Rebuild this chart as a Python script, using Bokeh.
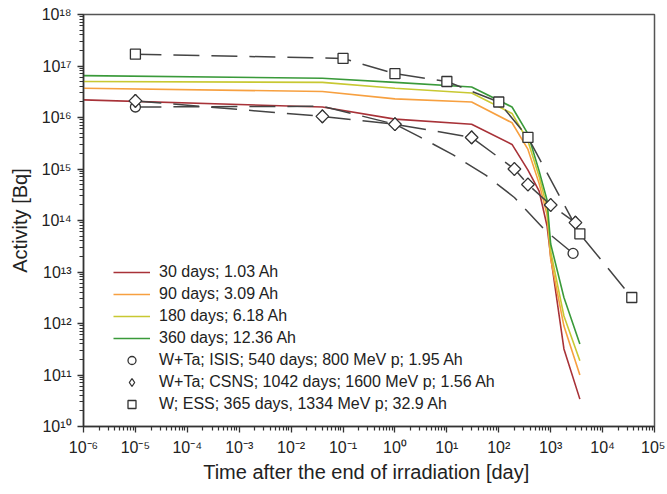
from bokeh.plotting import figure
from bokeh.models import FixedTicker, CustomJSTickFormatter, Legend, LegendItem
from bokeh.embed import file_html
from bokeh.resources import INLINE
import math

# ---------------- data ----------------
# simulated activity curves (time after end of irradiation, days)
sim_t = [1e-6, 0.04, 1, 30, 180, 365, 600, 850, 1000, 1800, 3650]
act_30d = [2.2e16, 1.6e16, 9.3e15, 7.4e15, 3.0e15, 9.5e14, 3.7e14, 7.9e13, 2.0e13, 3.2e11, 3.4e10]
act_90d = [3.7e16, 3.2e16, 2.3e16, 2.0e16, 7.9e15, 2.4e15, 5.2e14, 1.3e14, 1.8e13, 8.9e11, 1.0e11]
act_180d = [5.0e16, 4.8e16, 3.7e16, 3.0e16, 1.2e16, 3.5e15, 7.1e14, 1.8e14, 2.5e13, 1.4e12, 1.9e11]
act_360d = [6.5e16, 5.8e16, 4.8e16, 3.9e16, 1.6e16, 4.8e15, 9.1e14, 2.5e14, 3.5e13, 3.2e12, 4.0e11]

# W+Ta; ISIS (circles + dashed curve)
isis_t = [1e-5, 2700]
isis_a = [1.6e16, 2.3e13]
isis_curve_t = [1e-5, 0.04, 1, 3, 13, 56, 200, 800, 2700]
isis_curve_a = [1.6e16, 1.65e16, 7.4e15, 4.2e15, 1.9e15, 7.6e14, 2.8e14, 6.3e13, 2.3e13]

# W+Ta; CSNS (diamonds)
csns_t = [1e-5, 0.04, 1, 30, 200, 365, 1000, 3000]
csns_a = [2.1e16, 1.05e16, 7.4e15, 4.1e15, 1.0e15, 5.0e14, 2.0e14, 9.1e13]

# W; ESS (squares)
ess_t = [1e-5, 0.1, 1, 10, 100, 365, 3650, 36500]
ess_a = [1.7e17, 1.4e17, 7.1e16, 5.0e16, 2.0e16, 4.1e15, 5.5e13, 3.2e12]

# tick labels
x_ticks = [1e-6, 1e-5, 1e-4, 1e-3, 1e-2, 1e-1, 1e0, 1e1, 1e2, 1e3, 1e4, 1e5]
x_tick_labels = ["10⁻⁶", "10⁻⁵", "10⁻⁴", "10⁻³", "10⁻²", "10⁻¹", "10⁰", "10¹",
                 "10²", "10³", "10⁴", "10⁵"]
y_ticks = [1e10, 1e11, 1e12, 1e13, 1e14, 1e15, 1e16, 1e17, 1e18]
y_tick_labels = ["10¹⁰", "10¹¹", "10¹²", "10¹³", "10¹⁴", "10¹⁵", "10¹⁶", "10¹⁷", "10¹⁸"]

legend_labels = ["30 days; 1.03 Ah", "90 days; 3.09 Ah", "180 days; 6.18 Ah", "360 days; 12.36 Ah",
                 "W+Ta; ISIS; 540 days; 800 MeV p; 1.95 Ah",
                 "W+Ta; CSNS; 1042 days; 1600 MeV p; 1.56 Ah",
                 "W; ESS; 365 days, 1334 MeV p; 32.9 Ah"]

# ---------------- figure ----------------
FONT = "Liberation Sans"
p = figure(width=665, height=492, x_axis_type="log", y_axis_type="log",
           x_range=(1e-6, 1e5), y_range=(1e10, 1e18),
           output_backend="svg", toolbar_location=None,
           min_border_left=83, min_border_right=11, min_border_top=14, min_border_bottom=66)
p.grid.visible = False
p.outline_line_color = "#555555"
p.outline_line_width = 1.5
p.background_fill_color = "white"
p.border_fill_color = "white"

x_minor = [m * 10.0 ** k for k in range(-6, 5) for m in range(2, 10)]
y_minor = [m * 10.0 ** k for k in range(10, 18) for m in range(2, 10)]
p.xaxis.ticker = FixedTicker(ticks=x_ticks, minor_ticks=x_minor)
p.yaxis.ticker = FixedTicker(ticks=y_ticks, minor_ticks=y_minor)

fmt_code = """
let best = 0, bd = 1e9;
for (let i = 0; i < tvals.length; i++) {
  const d = Math.abs(Math.log10(tick) - Math.log10(tvals[i]));
  if (d < bd) { bd = d; best = i; }
}
return tlabels[best];
"""
p.xaxis.formatter = CustomJSTickFormatter(args=dict(tvals=x_ticks, tlabels=x_tick_labels), code=fmt_code)
p.yaxis.formatter = CustomJSTickFormatter(args=dict(tvals=y_ticks, tlabels=y_tick_labels), code=fmt_code)

for ax in (p.xaxis[0], p.yaxis[0]):
    ax.major_tick_out = 6
    ax.major_tick_in = 0
    ax.minor_tick_out = 4
    ax.minor_tick_in = 0
    ax.major_tick_line_color = "#333333"
    ax.minor_tick_line_color = "#333333"
    ax.major_tick_line_width = 1.3
    ax.minor_tick_line_width = 1.2
    ax.axis_line_color = "#333333"
    ax.axis_line_width = 1.5
    ax.major_label_text_font = FONT
    ax.major_label_text_font_size = "16px"
    ax.major_label_text_color = "#222222"
    ax.axis_label_text_font = FONT
    ax.axis_label_text_font_size = "20px"
    ax.axis_label_text_font_style = "normal"
    ax.axis_label_text_color = "#222222"

p.xaxis.major_label_standoff = 6
p.yaxis.major_label_standoff = 6
p.xaxis.axis_label = "Time after the end of  irradiation [day]"
p.yaxis.axis_label = "Activity [Bq]"
p.xaxis.axis_label_standoff = 2
p.yaxis.axis_label_standoff = 8

# simulated curves
colors = ["#a83238", "#f7a040", "#c8c832", "#3a9a3a"]
series = [act_30d, act_90d, act_180d, act_360d]
line_rs = []
for col, ys in zip(colors, series):
    line_rs.append(p.line(sim_t, ys, line_color=col, line_width=1.6))

# measured / reference data (dashed)
DASH = "26 12"
DCOL = "#444444"
p.line(isis_curve_t, isis_curve_a, line_color=DCOL, line_width=1.5, line_dash=DASH)
p.line(csns_t, csns_a, line_color=DCOL, line_width=1.5, line_dash=DASH)
p.line(ess_t, ess_a, line_color=DCOL, line_width=1.5, line_dash=DASH)

r_isis = p.scatter(isis_t, isis_a, marker="circle", size=10, fill_color="white",
                   line_color="#333333", line_width=1.3)
# diamond glyph used as legend symbol (hidden beneath the regular diamonds)
r_csns_leg = p.scatter(csns_t, csns_a, marker="diamond", size=13, fill_color="white",
                       line_color="#333333", line_width=1.3)
r_csns = p.scatter(csns_t, csns_a, marker="square", angle=math.pi / 4, size=9, fill_color="white",
                   line_color="#333333", line_width=1.3)
r_ess = p.scatter(ess_t, ess_a, marker="square", size=10, fill_color="white",
                  line_color="#333333", line_width=1.3)

items = [LegendItem(label=lab, renderers=[r]) for lab, r in
         zip(legend_labels, line_rs + [r_isis, r_csns_leg, r_ess])]
legend = Legend(items=items, location=(30, 12), border_line_color=None,
                background_fill_alpha=0, padding=0, margin=0, spacing=2,
                glyph_width=37, glyph_height=20, label_height=20, label_standoff=9,
                label_text_font=FONT, label_text_font_size="16px", label_text_color="#222222")
p.add_layout(legend)

open("out.html", "w").write(file_html(p, INLINE))
